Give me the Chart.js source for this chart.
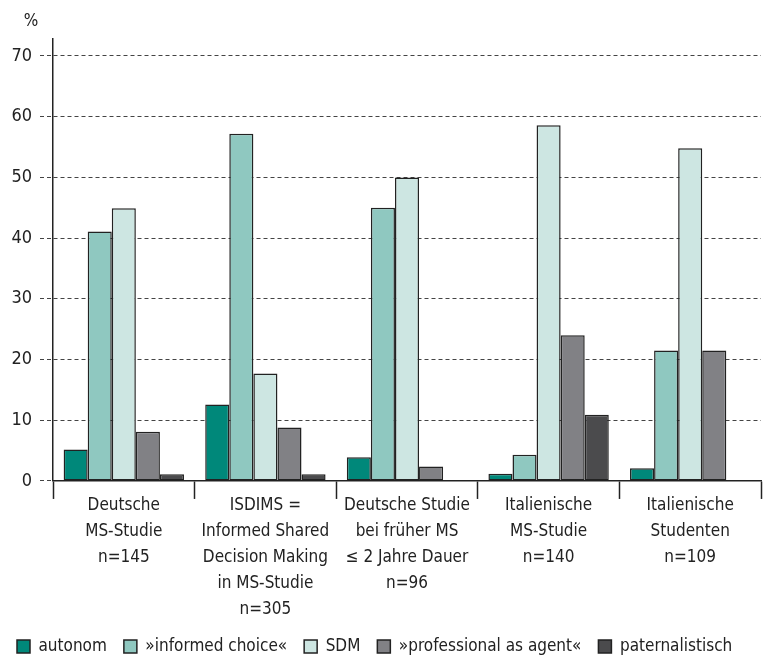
<!DOCTYPE html>
<html>
<head>
<meta charset="utf-8">
<script src="https://cdn.jsdelivr.net/npm/chart.js@4"></script>
<style>
  html, body { margin: 0; padding: 0; background: #fff; }
  #wrap { width: 770px; height: 658px; }
</style>
</head>
<body>
<div id="wrap"><canvas id="grafico"></canvas></div>
<script>
const categories = [
  ["Deutsche", "MS-Studie", "n=145"],
  ["ISDIMS =", "Informed Shared", "Decision Making", "in MS-Studie", "n=305"],
  ["Deutsche Studie", "bei früher MS", "\u2264 2 Jahre Dauer", "n=96"],
  ["Italienische", "MS-Studie", "n=140"],
  ["Italienische", "Studenten", "n=109"]
];
const autonom = [5.2, 12.6, 3.9, 1.2, 2.1];
const informedChoice = [41.1, 57.2, 45.0, 4.3, 21.5];
const sdm = [44.9, 17.7, 50.0, 58.6, 54.8];
const professionalAsAgent = [8.1, 8.8, 2.4, 24.0, 21.5];
const paternalistisch = [1.1, 1.1, 0, 10.9, 0];
const yTicks = [0, 10, 20, 30, 40, 50, 60, 70];

const schrift = "'DejaVu Sans Condensed', 'Liberation Sans Narrow', 'Noto Sans', sans-serif";

function serie(label, data, farbe) {
  return {
    label: label,
    data: data,
    backgroundColor: farbe,
    borderColor: "#222",
    borderWidth: 1.5,
    borderSkipped: false,
    categoryPercentage: 0.85,
    barPercentage: 1.0
  };
}

// "%" above the value axis
const prozentLabel = {
  id: "prozentLabel",
  afterDraw(chart) {
    const c = chart.ctx;
    c.save();
    c.font = "17px " + schrift;
    c.fillStyle = "#222";
    c.textAlign = "center";
    c.textBaseline = "middle";
    c.fillText("%", 31, 22);
    c.restore();
  }
};

new Chart(document.getElementById("grafico").getContext("2d"), {
  type: "bar",
  data: {
    labels: categories,
    datasets: [
      serie("autonom", autonom, "#00887A"),
      serie("\u00BBinformed choice\u00AB", informedChoice, "#8FC8C0"),
      serie("SDM", sdm, "#CDE6E2"),
      serie("\u00BBprofessional as agent\u00AB", professionalAsAgent, "#818185"),
      serie("paternalistisch", paternalistisch, "#4B4B4D")
    ]
  },
  options: {
    responsive: true,
    maintainAspectRatio: false,
    animation: false,
    layout: { padding: { top: 39, right: 9, left: 0, bottom: -7 } },
    plugins: {
      legend: {
        position: "bottom",
        align: "start",
        labels: {
          boxWidth: 13,
          boxHeight: 13,
          padding: 17,
          color: "#222",
          font: { family: schrift, size: 17 }
        }
      },
      tooltip: { enabled: false }
    },
    scales: {
      x: {
        afterFit(axis) {
          axis.height += 4; // extra room between labels and legend
        },
        grid: {
          display: true,
          offset: true,
          drawOnChartArea: false,
          drawTicks: true,
          tickLength: 18,
          tickColor: "#222",
          tickWidth: 1.5
        },
        border: { display: true, color: "#222", width: 1.5 },
        ticks: {
          color: "#222",
          padding: -6,
          maxRotation: 0,
          autoSkip: false,
          font: { family: schrift, size: 17, lineHeight: 1.53 }
        }
      },
      y: {
        min: 0,
        max: 72.8,
        afterBuildTicks(axis) {
          axis.ticks = yTicks.map(v => ({ value: v }));
        },
        afterFit(axis) {
          axis.width = 53;
        },
        grid: {
          color: "#444",
          lineWidth: 1,
          tickLength: 13,
          tickColor: "#444",
          tickBorderDash: [4, 3]
        },
        // border.dash dashes the grid lines, the axis line stays solid
        border: { display: true, color: "#222", width: 1.5, dash: [4, 3] },
        ticks: {
          color: "#222",
          padding: 8,
          font: { family: schrift, size: 18 }
        }
      }
    }
  },
  plugins: [prozentLabel]
});
</script>
</body>
</html>
